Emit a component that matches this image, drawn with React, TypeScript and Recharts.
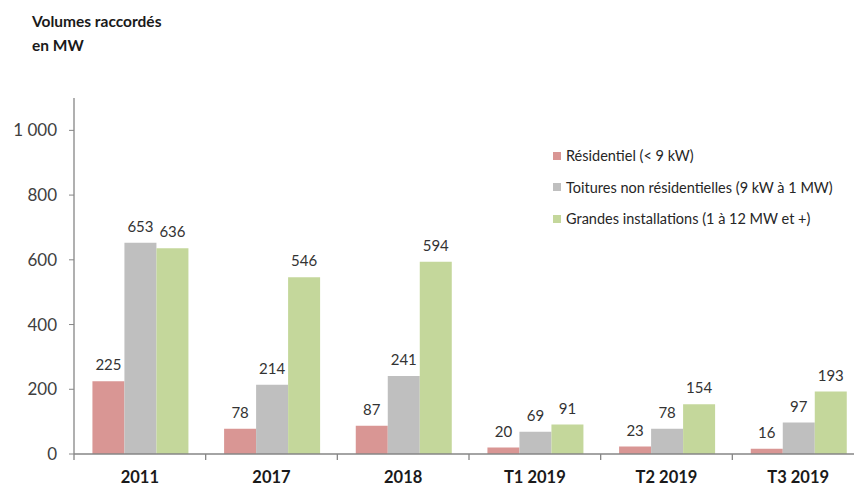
import { BarChart, Bar, XAxis, YAxis, Legend, LabelList } from 'recharts';

const categories = ['2011', '2017', '2018', 'T1 2019', 'T2 2019', 'T3 2019'];
const residentiel = [225, 78, 87, 20, 23, 16];
const toitures = [653, 214, 241, 69, 78, 97];
const grandes = [636, 546, 594, 91, 154, 193];
const yTicks = [0, 200, 400, 600, 800, 1000];

const seriesNames = [
  'Résidentiel (< 9 kW)',
  'Toitures non résidentielles (9 kW à 1 MW)',
  'Grandes installations (1 à 12 MW et +)',
];

const data = categories.map((c, i) => ({
  name: c,
  res: residentiel[i],
  toit: toitures[i],
  grand: grandes[i],
}));

const FONT = 'Lato, "Open Sans", sans-serif';
const AXIS = '#868686';
const X_TICK_MARGIN = 17;

// libellé + petites graduations entre les catégories
function CategoryTick(props: any) {
  const { x, y, payload, width, visibleTicksCount, index } = props;
  const half = width / (visibleTicksCount || categories.length) / 2;
  const y0 = y - X_TICK_MARGIN;
  const last = index === (visibleTicksCount || categories.length) - 1;
  return (
    <g>
      <line x1={x - half} x2={x - half} y1={y0} y2={y0 + 6} stroke={AXIS} strokeWidth={1.3} />
      {last && <line x1={x + half} x2={x + half} y1={y0} y2={y0 + 6} stroke={AXIS} strokeWidth={1.3} />}
      <text
        x={x}
        y={y}
        dy="0.71em"
        textAnchor="middle"
        fontFamily={FONT}
        fontSize={16.5}
        fontWeight={700}
        fill="#1a1a1a"
      >
        {payload.value}
      </text>
    </g>
  );
}

// Recharts trie la légende par nom : on remet l'ordre des séries
function LegendBox({ payload }: any) {
  const items = [...(payload || [])].sort(
    (a: any, b: any) => seriesNames.indexOf(a.value) - seriesNames.indexOf(b.value)
  );
  return (
    <div style={{ fontFamily: FONT, fontSize: 14.5, color: '#262626' }}>
      {items.map((p: any) => (
        <div key={p.value} style={{ display: 'flex', alignItems: 'center', height: 31.5 }}>
          <span style={{ width: 8, height: 8, background: p.color, marginRight: 5 }} />
          <span>{p.value}</span>
        </div>
      ))}
    </div>
  );
}

export default function App() {
  const labelStyle = { fontFamily: FONT, fontSize: 15, fill: '#333333' };
  return (
    <div style={{ position: 'absolute', left: 0, top: 0, width: 854, height: 486, overflow: 'hidden', background: '#fff' }}>
      <div style={{ position: 'absolute', left: 32, top: 9, fontFamily: FONT, fontWeight: 700, fontSize: 15.5, lineHeight: '24px', color: '#1a1a1a' }}>
        Volumes raccordés
        <br />
        en MW
      </div>
      <BarChart
        width={870}
        height={486}
        data={data}
        margin={{ top: 98, right: 6, left: 0, bottom: 0 }}
        barCategoryGap="14%"
        barGap={0}
      >
        <XAxis
          dataKey="name"
          height={32}
          axisLine={{ stroke: AXIS, strokeWidth: 1.3 }}
          tickLine={false}
          tickSize={0}
          tickMargin={X_TICK_MARGIN}
          interval={0}
          tick={<CategoryTick />}
        />
        <YAxis
          width={74}
          domain={[0, 1100]}
          ticks={yTicks}
          axisLine={{ stroke: AXIS, strokeWidth: 1.3 }}
          tickLine={{ stroke: AXIS }}
          tickSize={5}
          tickMargin={12}
          tick={{ fontFamily: FONT, fontSize: 17, fill: '#404040' }}
          tickFormatter={(v: number) => (v === 1000 ? '1 000' : String(v))}
        />
        <Legend
          layout="horizontal"
          verticalAlign="middle"
          align="center"
          content={<LegendBox />}
          wrapperStyle={{ position: 'absolute', left: 553, top: 140, width: 300 }}
        />
        <Bar dataKey="res" name={seriesNames[0]} fill="#d99694" isAnimationActive={false}>
          <LabelList dataKey="res" position="top" offset={11} style={labelStyle} />
        </Bar>
        <Bar dataKey="toit" name={seriesNames[1]} fill="#bfbfbf" isAnimationActive={false}>
          <LabelList dataKey="toit" position="top" offset={11} style={labelStyle} />
        </Bar>
        <Bar dataKey="grand" name={seriesNames[2]} fill="#c4d79b" isAnimationActive={false}>
          <LabelList dataKey="grand" position="top" offset={11} style={labelStyle} />
        </Bar>
      </BarChart>
    </div>
  );
}
